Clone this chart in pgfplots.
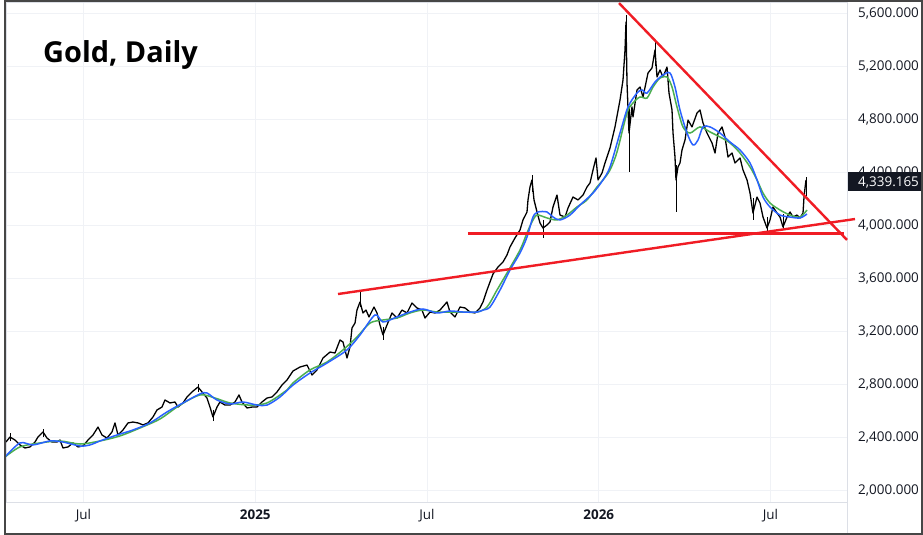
\documentclass[border=0pt]{standalone}
\usepackage{pgfplots}
\pgfplotsset{compat=1.18}
\usepackage{pgfplotstable}
\usepackage{fontspec}
\setmainfont{Open Sans}
\definecolor{tvred}{RGB}{240,28,36}
\definecolor{tvblue}{RGB}{41,98,255}
\definecolor{tvgreen}{RGB}{76,175,80}
\definecolor{tvgrid}{RGB}{240,242,246}
\definecolor{tvsep}{RGB}{220,223,230}
\definecolor{tvtext}{RGB}{19,23,34}
\definecolor{tvborder}{RGB}{70,70,70}

% closing prices (x = months since Jan 2024)
\pgfplotstableread{
x y
3.293 2362
3.432 2400
3.607 2377
3.782 2340
3.956 2317
4.131 2325
4.306 2362
4.410 2400
4.585 2438
4.725 2392
4.900 2362
5.074 2362
5.179 2377
5.284 2317
5.459 2325
5.633 2355
5.808 2325
5.983 2332
6.157 2377
6.332 2415
6.507 2475
6.646 2415
6.821 2392
6.996 2438
7.100 2506
7.205 2415
7.380 2453
7.555 2506
7.729 2513
7.904 2506
8.079 2491
8.253 2506
8.428 2551
8.568 2604
8.742 2626
8.847 2679
9.022 2657
9.196 2664
9.301 2626
9.476 2657
9.616 2702
9.790 2740
10.000 2777
10.140 2740
10.314 2694
10.419 2626
10.524 2551
10.664 2626
10.768 2664
10.943 2641
11.118 2641
11.292 2664
11.432 2717
11.537 2664
11.712 2619
11.886 2626
12.061 2626
12.236 2664
12.410 2694
12.585 2702
12.760 2740
12.934 2792
13.109 2830
13.319 2898
13.563 2928
13.808 2943
13.982 2868
14.157 2906
14.367 2996
14.611 3041
14.786 3034
14.961 3132
15.065 3117
15.205 2996
15.310 3079
15.380 3223
15.485 3260
15.554 3358
15.659 3419
15.764 3336
15.869 3358
15.974 3306
16.148 3381
16.253 3336
16.358 3245
16.463 3170
16.602 3245
16.777 3336
16.952 3298
17.126 3358
17.301 3336
17.476 3411
17.650 3374
17.825 3358
17.930 3298
18.105 3343
18.279 3336
18.454 3358
18.698 3419
18.803 3343
18.978 3306
19.153 3381
19.327 3374
19.502 3343
19.677 3336
19.851 3374
19.956 3419
20.096 3509
20.201 3570
20.305 3630
20.480 3683
20.655 3721
20.795 3774
20.899 3834
21.074 3902
21.249 3962
21.353 4038
21.493 4098
21.528 4189
21.598 4287
21.668 4340
21.738 4189
21.843 4098
21.947 4015
22.052 3977
22.192 4000
22.297 4023
22.402 4136
22.541 4226
22.646 4075
22.821 4060
22.926 4128
23.100 4211
23.275 4189
23.450 4226
23.589 4287
23.694 4317
23.799 4415
23.904 4506
23.974 4340
24.113 4392
24.218 4468
24.393 4581
24.567 4740
24.742 4943
24.847 5094
24.917 5321
24.952 5532
24.987 5072
25.056 4694
25.161 4891
25.196 4815
25.336 5019
25.441 5041
25.546 4966
25.720 5147
25.860 5185
25.965 5321
26.035 5117
26.139 5170
26.244 5117
26.384 5192
26.454 4996
26.559 4868
26.594 4694
26.663 4513
26.698 4340
26.768 4438
26.838 4468
26.908 4566
27.013 4641
27.118 4792
27.257 4740
27.432 4845
27.537 4868
27.642 4770
27.781 4694
27.956 4619
28.061 4543
28.166 4694
28.305 4740
28.410 4664
28.515 4513
28.655 4543
28.759 4468
28.934 4506
29.039 4415
29.179 4340
29.284 4241
29.388 4090
29.528 4211
29.633 4166
29.738 4060
29.877 3977
29.982 4038
30.087 4136
30.227 4090
30.332 4060
30.436 3985
30.576 4060
30.681 4098
30.786 4060
30.925 4075
31.030 4053
31.135 4090
31.170 4211
31.205 4279
31.240 4339.165
}\closes

% high-low wicks of the larger candles
\pgfplotstableread{
x y
3.432 2372
3.432 2432
nan nan
4.585 2400
4.585 2462
nan nan
10.000 2740
10.000 2800
nan nan
10.524 2520
10.524 2600
nan nan
15.659 3380
15.659 3494
nan nan
16.463 3132
16.463 3230
nan nan
21.668 4250
21.668 4377
nan nan
22.052 3902
22.052 4040
nan nan
24.952 5300
24.952 5585
nan nan
25.056 4400
25.056 4900
nan nan
25.965 5200
25.965 5396
nan nan
26.698 4098
26.698 4450
nan nan
29.388 4040
29.388 4200
nan nan
29.877 3950
29.877 4060
nan nan
30.436 3965
30.436 4080
nan nan
31.240 4220
31.240 4362
}\wicks

% moving average (green)
\pgfplotstableread{
x y
3.258 2249
3.782 2325
4.480 2355
5.179 2370
5.878 2347
6.576 2370
7.275 2408
7.974 2468
8.672 2536
9.371 2641
10.070 2717
10.594 2694
11.118 2657
11.817 2641
12.410 2657
13.109 2755
13.319 2808
13.913 2906
14.506 2966
15.065 3057
15.554 3155
16.009 3260
16.463 3283
16.952 3298
17.406 3336
17.860 3358
18.349 3343
18.803 3343
19.257 3343
19.747 3343
20.096 3381
20.445 3509
20.795 3638
21.249 3811
21.493 3940
21.668 4023
21.843 4075
22.192 4053
22.541 4038
22.891 4075
23.240 4136
23.589 4189
23.939 4287
24.148 4340
24.393 4415
24.637 4551
24.987 4845
25.196 4921
25.441 4966
25.685 4958
25.895 5041
26.139 5109
26.384 5117
26.559 5041
26.733 4891
26.943 4740
27.187 4694
27.537 4740
27.886 4702
28.235 4664
28.585 4619
28.934 4543
29.284 4438
29.528 4340
29.738 4241
29.982 4166
30.332 4113
30.681 4075
31.030 4060
31.275 4113
}\magreen

% moving average (blue)
\pgfplotstableread{
x y
3.258 2249
3.782 2355
4.236 2340
4.830 2370
5.284 2362
5.878 2332
6.227 2340
6.576 2370
7.170 2415
7.729 2453
8.323 2506
8.917 2589
9.476 2657
10.070 2725
10.314 2732
10.664 2679
11.118 2649
11.572 2664
12.061 2641
12.410 2641
12.865 2702
13.319 2792
13.913 2883
14.506 2958
15.205 3057
15.659 3170
16.183 3321
16.463 3268
16.952 3306
17.406 3343
17.860 3366
18.349 3336
18.803 3351
19.257 3343
19.747 3343
19.956 3358
20.201 3381
20.550 3509
20.899 3660
21.249 3789
21.493 3909
21.703 4060
21.878 4098
22.192 4098
22.402 4060
22.646 4038
22.995 4075
23.345 4151
23.799 4241
24.148 4340
24.393 4438
24.742 4694
25.022 4891
25.336 4996
25.511 5019
25.685 4996
25.965 5079
26.244 5132
26.489 5147
26.663 5041
26.838 4868
27.083 4694
27.292 4604
27.467 4641
27.642 4740
27.886 4740
28.235 4694
28.585 4626
28.934 4566
29.284 4468
29.528 4340
29.738 4211
29.982 4136
30.332 4075
30.681 4060
31.030 4053
31.275 4083
}\mablue

\begin{document}
\begin{tikzpicture}
\useasboundingbox (0,0) rectangle (923bp,535bp);
\fill[white] (0,0) rectangle (923bp,535bp);
\begin{axis}[
  at={(6bp,33bp)}, anchor=south west,
  scale only axis, width=841bp, height=500bp,
  xmin=3.293, xmax=32.672, ymin=1909.4, ymax=5682.9,
  clip=false,
  axis line style={draw=tvsep},
  major tick length=0pt,
  grid=major, major grid style={draw=tvgrid, line width=0.8bp},
  xtick={6,12,18,24,30},
  xticklabels={Jul,\textbf{2025},Jul,\textbf{2026},Jul},
  ytick={2000,2400,2800,3200,3600,4000,4400,4800,5200,5600},
  yticklabels={{2,000.000},{2,400.000},{2,800.000},{3,200.000},{3,600.000},{4,000.000},{4,400.000},{4,800.000},{5,200.000},{5,600.000}},
  yticklabel pos=right,
  x tick label style={font=\fontsize{13.5}{16}\selectfont, text=tvtext, anchor=base, yshift=-17.5bp},
  y tick label style={font=\fontsize{13.5}{16}\selectfont, text=tvtext, anchor=base west, inner sep=0pt, xshift=11bp, yshift=-4.8bp},
]
\addplot[black, line width=1.3bp, line join=round] table[x=x,y=y] {\closes};
\addplot[black, line width=0.8bp, unbounded coords=jump] table[x=x,y=y] {\wicks};
\addplot[tvgreen, line width=1.5bp, smooth] table[x=x,y=y] {\magreen};
\addplot[tvblue, line width=1.5bp, smooth] table[x=x,y=y] {\mablue};
\addplot[tvred, line width=2.4bp] coordinates {(24.707,5675) (32.672,3887)};
\addplot[tvred, line width=2.4bp] coordinates {(14.891,3479) (32.952,4045)};
\addplot[tvred, line width=2.4bp] coordinates {(19.432,3936) (32.567,3936)};
\end{axis}
\draw[tvsep] (847bp,0) -- (847bp,33bp);
\fill[tvtext] (847.5bp,344bp) rectangle (923bp,363bp);
\node[anchor=base west, inner sep=0pt, text=white, font=\fontsize{13.5}{16}\selectfont] at (858bp,348.5bp) {4,339.165};
\node[anchor=base west, inner sep=0pt, font=\fontsize{29}{34}\selectfont\bfseries] at (43bp,472bp) {Gold, Daily};
\draw[tvborder, line width=2bp] (5bp,1bp) rectangle (922bp,534bp);
\end{tikzpicture}
\end{document}
